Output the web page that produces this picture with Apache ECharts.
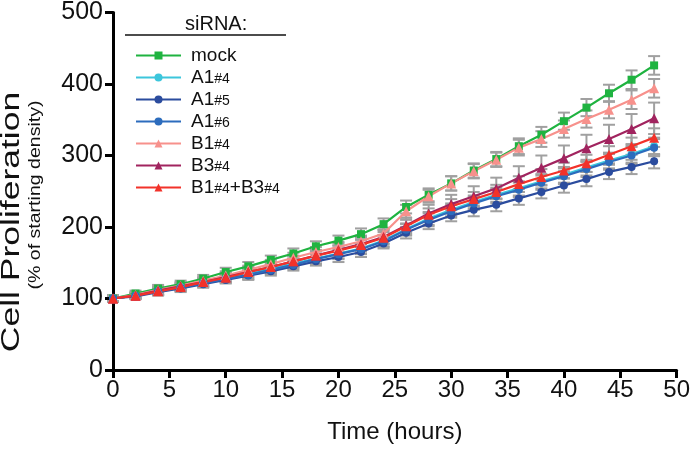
<!DOCTYPE html>
<html>
<head>
<meta charset="utf-8">
<script src="https://cdn.jsdelivr.net/npm/echarts@6/dist/echarts.min.js"></script>
<style>
  html, body { margin: 0; padding: 0; background: #fff; }
  #chart { width: 693px; height: 449px; }
</style>
</head>
<body>
<div id="chart"></div>
<script>
// time points (hours)
const hours = [0, 2, 4, 6, 8, 10, 12, 14, 16, 18, 20, 22, 24, 26, 28, 30, 32, 34, 36, 38, 40, 42, 44, 46, 48];

// mean values
const mock   = [100, 107, 114, 120, 128, 137, 145, 154, 163, 173, 181, 190, 204, 228, 245, 261, 279, 295, 313, 329, 348, 367, 387, 406, 426];
const a1_4   = [100, 104, 110, 116, 122, 128, 134, 141, 149, 156, 163, 170, 181, 197, 212, 224, 235, 245, 254, 264, 273, 283, 293, 302, 313];
const a1_5   = [100, 103, 109, 114, 120, 126, 132, 138, 145, 152, 158, 165, 177, 192, 205, 216, 224, 231, 240, 249, 258, 267, 277, 284, 292];
const a1_6   = [100, 104, 110, 115, 121, 127, 133, 140, 147, 155, 162, 169, 180, 196, 210, 222, 233, 243, 252, 262, 271, 281, 291, 300, 311];
const b1_4   = [100, 105, 112, 118, 125, 132, 140, 148, 157, 165, 172, 180, 191, 222, 243, 261, 278, 294, 311, 323, 337, 351, 364, 378, 394];
const b3_4   = [100, 104, 111, 117, 123, 130, 137, 144, 152, 160, 168, 176, 186, 202, 219, 232, 243, 254, 269, 283, 296, 310, 323, 337, 352];
const b1b3   = [100, 104, 110, 116, 123, 129, 137, 144, 152, 160, 167, 175, 185, 201, 217, 229, 239, 249, 260, 270, 279, 289, 301, 313, 325];

// error bar half-heights (SD), estimated
const mockErr = [4, 4, 5, 5, 5, 6, 6, 6, 7, 7, 7, 8, 8, 9, 9, 10, 10, 10, 11, 11, 12, 12, 12, 13, 13];
const a1_4Err = [4, 4, 5, 5, 5, 5, 6, 6, 6, 7, 7, 7, 8, 8, 9, 9, 9, 10, 10, 10, 11, 11, 11, 12, 12];
const a1_5Err = [4, 4, 5, 5, 5, 5, 6, 6, 6, 6, 7, 7, 7, 8, 8, 8, 9, 9, 9, 9, 10, 10, 10, 10, 10];
const a1_6Err = [4, 4, 5, 5, 5, 5, 6, 6, 6, 7, 7, 7, 8, 8, 9, 9, 9, 10, 10, 10, 11, 11, 11, 12, 12];
const b1_4Err = [4, 4, 5, 5, 5, 6, 6, 6, 7, 7, 7, 8, 8, 9, 9, 10, 10, 10, 11, 11, 12, 12, 12, 13, 13];
const b3_4Err = [4, 4, 5, 5, 6, 6, 7, 7, 8, 8, 9, 10, 10, 11, 12, 13, 14, 15, 16, 17, 18, 19, 20, 21, 22];
const b1b3Err = [4, 4, 5, 5, 5, 6, 6, 6, 7, 7, 7, 8, 8, 9, 9, 10, 10, 10, 11, 11, 11, 12, 12, 12, 13];

const xTicks = [0, 5, 10, 15, 20, 25, 30, 35, 40, 45, 50];
const yTicks = [0, 100, 200, 300, 400, 500];

const groups = [
  { name: 'mock',      vals: mock, err: mockErr, color: '#1fb340', symbol: 'rect' },
  { name: 'A1#4',      vals: a1_4, err: a1_4Err, color: '#3cc6dc', symbol: 'circle' },
  { name: 'A1#5',      vals: a1_5, err: a1_5Err, color: '#2b4c9e', symbol: 'circle' },
  { name: 'A1#6',      vals: a1_6, err: a1_6Err, color: '#2c6cbd', symbol: 'circle' },
  { name: 'B1#4',      vals: b1_4, err: b1_4Err, color: '#f7918c', symbol: 'triangle' },
  { name: 'B3#4',      vals: b3_4, err: b3_4Err, color: '#a1245f', symbol: 'triangle' },
  { name: 'B1#4+B3#4', vals: b1b3, err: b1b3Err, color: '#f2322a', symbol: 'triangle' }
];

const FONT = 'Liberation Sans';

// gray SD bars with caps
function errorBars(api) {
  const x = api.value(0);
  const lo = api.coord([x, api.value(1)]);
  const hi = api.coord([x, api.value(2)]);
  const w = 6;
  const style = { stroke: '#a0a0a0', lineWidth: 2 };
  return {
    type: 'group',
    children: [
      { type: 'line', shape: { x1: lo[0], y1: lo[1], x2: hi[0], y2: hi[1] }, style },
      { type: 'line', shape: { x1: lo[0] - w, y1: lo[1], x2: lo[0] + w, y2: lo[1] }, style },
      { type: 'line', shape: { x1: hi[0] - w, y1: hi[1], x2: hi[0] + w, y2: hi[1] }, style }
    ]
  };
}

const series = [];
groups.forEach(g => {
  series.push({
    type: 'custom',
    name: g.name + ' err',
    renderItem: (params, api) => errorBars(api),
    data: hours.map((h, i) => [h, g.vals[i] - g.err[i], g.vals[i] + g.err[i]]),
    z: 1,
    silent: true
  });
});
groups.forEach(g => {
  series.push({
    type: 'line',
    name: g.name,
    data: hours.map((h, i) => [h, g.vals[i]]),
    symbol: g.symbol,
    symbolSize: g.symbol === 'triangle' ? 10 : 8,
    lineStyle: { color: g.color, width: 2.2 },
    itemStyle: { color: g.color },
    z: 3
  });
});

const chart = echarts.init(document.getElementById('chart'));
chart.setOption({
  animation: false,
  grid: { left: 113, right: 12, top: 12, bottom: 72 },
  xAxis: {
    type: 'value',
    min: xTicks[0], max: xTicks[xTicks.length - 1], interval: 5,
    axisLine: { onZero: false, lineStyle: { color: '#000', width: 3 } },
    axisTick: { length: 8, lineStyle: { color: '#000', width: 3 } },
    axisLabel: { color: '#111', fontSize: 24, fontFamily: FONT, margin: 8 },
    splitLine: { show: false },
    name: 'Time (hours)',
    nameLocation: 'middle',
    nameGap: 50,
    nameTextStyle: { color: '#111', fontSize: 24, fontFamily: FONT }
  },
  yAxis: {
    type: 'value',
    min: yTicks[0], max: yTicks[yTicks.length - 1], interval: 100,
    axisLine: { show: true, lineStyle: { color: '#000', width: 3 } },
    axisTick: { show: true, length: 8, lineStyle: { color: '#000', width: 3 } },
    axisLabel: { color: '#111', fontSize: 25, fontFamily: FONT, margin: 10 },
    splitLine: { show: false }
  },
  legend: {
    data: groups.map(g => g.name),
    orient: 'vertical',
    left: 130,
    top: 41,
    itemWidth: 45,
    itemHeight: 10,
    itemGap: 3,
    selectedMode: false,
    formatter: name => name.replace(/#(\d)/g, '{s|#$1}'),
    textStyle: {
      color: '#111', fontSize: 19, fontFamily: FONT, lineHeight: 17, padding: [0, 0, 0, 5],
      rich: {
        s: { fontSize: 14, fontFamily: FONT, color: '#111', lineHeight: 17, verticalAlign: 'bottom' }
      }
    }
  },
  graphic: [
    { type: 'text', left: 185, top: 14,
      style: { text: 'siRNA:', fontSize: 20, fontFamily: FONT, fill: '#111' } },
    { type: 'line', shape: { x1: 125, y1: 35, x2: 286, y2: 35 }, style: { stroke: '#111', lineWidth: 1.5 } },
    { type: 'text', x: 12, y: 222, rotation: Math.PI / 2, scaleX: 1.42,
      style: { text: 'Cell Proliferation', fontSize: 25, fontFamily: FONT, fill: '#111',
        align: 'center', verticalAlign: 'middle' } },
    { type: 'text', x: 35, y: 195, rotation: Math.PI / 2, scaleX: 1.15,
      style: { text: '(% of starting density)', fontSize: 17, fontFamily: FONT, fill: '#111',
        align: 'center', verticalAlign: 'middle' } }
  ],
  series
});
window.addEventListener('resize', () => chart.resize());
</script>
</body>
</html>
